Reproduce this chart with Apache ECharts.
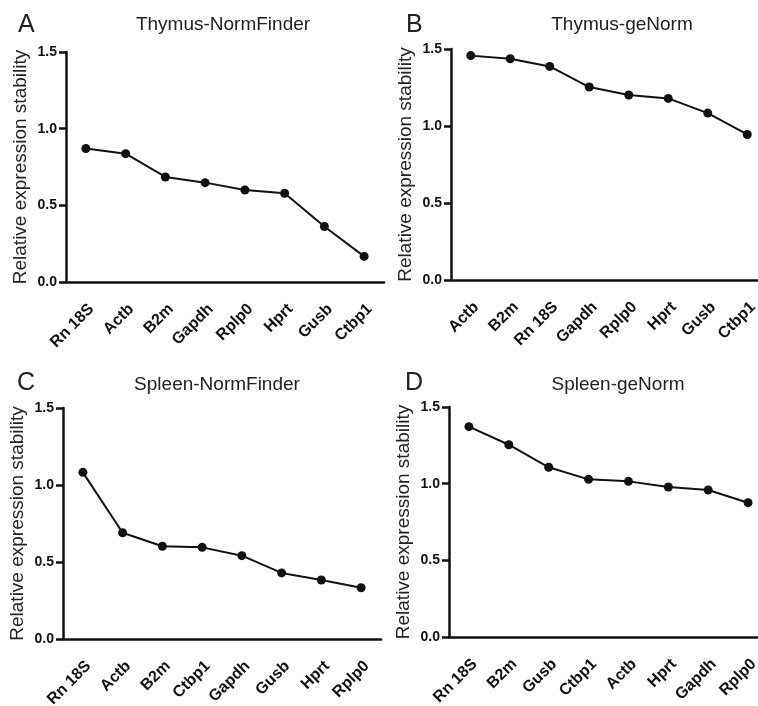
<!DOCTYPE html>
<html>
<head>
<meta charset="utf-8">
<script src="https://cdn.jsdelivr.net/npm/echarts@6/dist/echarts.min.js"></script>
<style>
  html, body { margin: 0; padding: 0; background: #fff; }
  #main { width: 758px; height: 706px; }
</style>
</head>
<body>
<div id="main"></div>
<script>
// categories and values
var thymusNfGenes = ['Rn 18S', 'Actb', 'B2m', 'Gapdh', 'Rplp0', 'Hprt', 'Gusb', 'Ctbp1'];
var thymusNfValues = [0.871, 0.837, 0.685, 0.648, 0.600, 0.579, 0.362, 0.167];

var thymusGnGenes = ['Actb', 'B2m', 'Rn 18S', 'Gapdh', 'Rplp0', 'Hprt', 'Gusb', 'Ctbp1'];
var thymusGnValues = [1.457, 1.437, 1.387, 1.253, 1.201, 1.179, 1.084, 0.945];

var spleenNfGenes = ['Rn 18S', 'Actb', 'B2m', 'Ctbp1', 'Gapdh', 'Gusb', 'Hprt', 'Rplp0'];
var spleenNfValues = [1.082, 0.690, 0.602, 0.595, 0.541, 0.429, 0.383, 0.333];

var spleenGnGenes = ['Rn 18S', 'B2m', 'Gusb', 'Ctbp1', 'Actb', 'Hprt', 'Gapdh', 'Rplp0'];
var spleenGnValues = [1.372, 1.254, 1.107, 1.028, 1.015, 0.978, 0.959, 0.876];

var yTicks = [0, 0.5, 1.0, 1.5];
var yName = 'Relative expression stability';

var panels = [
  { letter: 'A', title: 'Thymus-NormFinder', genes: thymusNfGenes, values: thymusNfValues,
    grid: { left: 66, top: 52, width: 318, height: 230 }, titleX: 218, titleY: 10, letterX: 13, letterY: 8 },
  { letter: 'B', title: 'Thymus-geNorm', genes: thymusGnGenes, values: thymusGnValues,
    grid: { left: 451, top: 49, width: 316, height: 231 }, titleX: 617, titleY: 10, letterX: 401, letterY: 8 },
  { letter: 'C', title: 'Spleen-NormFinder', genes: spleenNfGenes, values: spleenNfValues,
    grid: { left: 63, top: 408, width: 318, height: 231 }, titleX: 212, titleY: 370, letterX: 12, letterY: 366 },
  { letter: 'D', title: 'Spleen-geNorm', genes: spleenGnGenes, values: spleenGnValues,
    grid: { left: 449, top: 407, width: 319, height: 230 }, titleX: 613, titleY: 370, letterX: 400, letterY: 366 }
];

var font = '"Liberation Sans", Arial, Helvetica, sans-serif';
var ink = '#111';

var grids = [], xAxes = [], yAxes = [], series = [], titles = [];

panels.forEach(function (p, i) {
  // keep the plot boxes where they are, even if labels run off the page edge
  grids.push(Object.assign({ outerBoundsMode: 'none', containLabel: false }, p.grid));

  xAxes.push({
    type: 'category',
    gridIndex: i,
    data: p.genes,
    boundaryGap: true,
    axisLine: { lineStyle: { color: ink, width: 2.5 } },
    axisTick: { alignWithLabel: true, length: 7, lineStyle: { color: ink, width: 2.5 } },
    axisLabel: {
      rotate: 45, margin: 19, color: ink, fontFamily: font,
      fontWeight: 'bold', fontSize: 16, interval: 0,
      verticalAlign: 'top'
    },
    splitLine: { show: false }
  });

  yAxes.push({
    type: 'value',
    gridIndex: i,
    min: yTicks[0],
    max: yTicks[yTicks.length - 1],
    interval: 0.5,
    name: yName,
    nameLocation: 'middle',
    nameGap: 36,
    nameTextStyle: { color: '#222', fontFamily: font, fontSize: 19 },
    axisLine: { show: true, lineStyle: { color: ink, width: 2.5 } },
    axisTick: { show: true, length: 7, lineStyle: { color: ink, width: 2.5 } },
    axisLabel: {
      margin: 9, color: ink, fontFamily: font, fontWeight: 'bold', fontSize: 14,
      formatter: function (v) { return v.toFixed(1); }
    },
    splitLine: { show: false }
  });

  series.push({
    type: 'line',
    xAxisIndex: i,
    yAxisIndex: i,
    data: p.values,
    symbol: 'circle',
    symbolSize: 9,
    itemStyle: { color: ink },
    lineStyle: { color: ink, width: 2 },
    animation: false
  });

  titles.push({
    text: p.title, left: p.titleX, top: p.titleY, textAlign: 'center',
    textStyle: { fontFamily: font, fontWeight: 'normal', fontSize: 19, color: '#222' }
  });
  titles.push({
    text: p.letter, left: p.letterX, top: p.letterY,
    textStyle: { fontFamily: font, fontWeight: 'normal', fontSize: 25, color: '#222' }
  });
});

var chart = echarts.init(document.getElementById('main'));
chart.setOption({
  backgroundColor: '#fff',
  animation: false,
  title: titles,
  grid: grids,
  xAxis: xAxes,
  yAxis: yAxes,
  series: series
});
</script>
</body>
</html>
